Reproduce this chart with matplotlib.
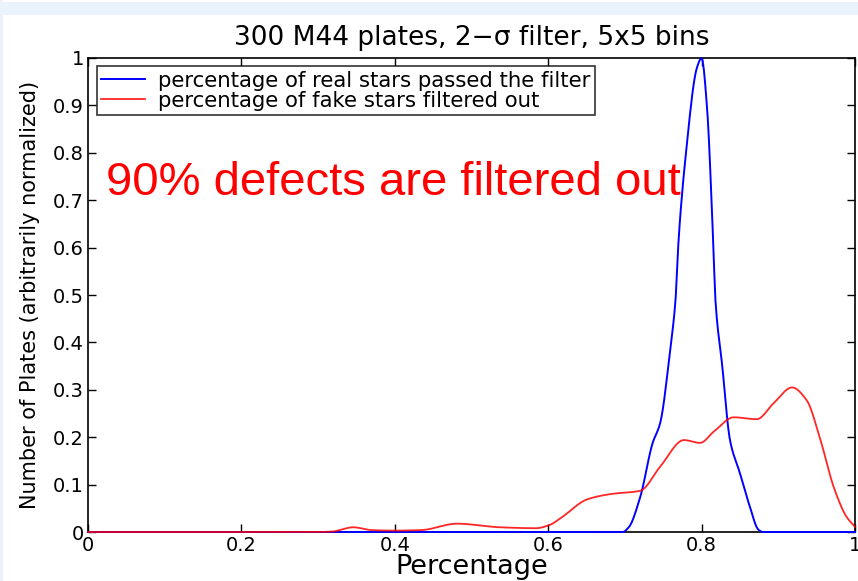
import numpy as np
import matplotlib.pyplot as plt
from matplotlib.patches import Rectangle

plt.rcParams['font.family'] = ['DejaVu Sans']

# values
real_x = [0.0, 0.30, 0.60, 0.697, 0.705, 0.720, 0.736, 0.746, 0.759, 0.766, 0.770,
          0.779, 0.794, 0.800, 0.807, 0.815, 0.818, 0.827, 0.837, 0.850, 0.863, 0.874, 0.88, 1.0]
real_y = [0.0, 0.0, 0.0, 0.0, 0.01, 0.074, 0.187, 0.23, 0.384, 0.49, 0.616,
          0.79, 0.98, 1.0, 0.897, 0.616, 0.49, 0.349, 0.194, 0.124, 0.053, 0.005, 0.0, 0.0]

fake_x = [0.0, 0.30, 0.318, 0.346, 0.37, 0.40, 0.434, 0.481, 0.537, 0.584, 0.602,
          0.616, 0.651, 0.681, 0.720, 0.746, 0.777, 0.798, 0.816, 0.842, 0.872,
          0.894, 0.918, 0.937, 0.955, 0.972, 0.989, 1.0]
fake_y = [0.0, 0.0, 0.001, 0.01, 0.004, 0.003, 0.004, 0.0176, 0.01, 0.008, 0.015,
          0.029, 0.069, 0.080, 0.087, 0.138, 0.194, 0.188, 0.212, 0.242, 0.238,
          0.272, 0.305, 0.278, 0.194, 0.096, 0.032, 0.011]

title = '300 M44 plates, 2\u2212\u03c3 filter, 5x5 bins'
labels = ['percentage of real stars passed the filter',
          'percentage of fake stars filtered out']
note = '90% defects are filtered out'


def smooth(xs, ys, n=600):
    # monotone cubic (PCHIP-like) through the read points
    xs = np.asarray(xs, float)
    ys = np.asarray(ys, float)
    h = np.diff(xs)
    d = np.diff(ys) / h
    m = np.zeros_like(ys)
    for i in range(1, len(xs) - 1):
        if d[i - 1] * d[i] > 0:
            w1 = 2 * h[i] + h[i - 1]
            w2 = h[i] + 2 * h[i - 1]
            m[i] = (w1 + w2) / (w1 / d[i - 1] + w2 / d[i])
    m[0] = d[0]
    m[-1] = d[-1]
    xx = np.linspace(xs[0], xs[-1], n)
    k = np.clip(np.searchsorted(xs, xx) - 1, 0, len(xs) - 2)
    t = (xx - xs[k]) / h[k]
    h00 = 2 * t**3 - 3 * t**2 + 1
    h10 = t**3 - 2 * t**2 + t
    h01 = -2 * t**3 + 3 * t**2
    h11 = t**3 - t**2
    yy = h00 * ys[k] + h10 * h[k] * m[k] + h01 * ys[k + 1] + h11 * h[k] * m[k + 1]
    return xx, yy


fig = plt.figure(figsize=(8.58, 5.81), dpi=100)
fig.patches.append(Rectangle((0, 1 - 15 / 581), 1, 13 / 581, transform=fig.transFigure,
                             facecolor='#eaf2fb', edgecolor='none', zorder=0))
fig.patches.append(Rectangle((0, 0), 2.5 / 858, 1, transform=fig.transFigure,
                             facecolor='#eaf2fb', edgecolor='none', zorder=0))

ax = fig.add_axes([0.1026, 0.0843, 0.8939, 0.8159])
# curves sit on top of the bottom spine, as in the reference
ax.plot(*smooth(real_x, real_y), color='blue', lw=1.4, label=labels[0],
        zorder=3, clip_on=False)
ax.plot(*smooth(fake_x, fake_y), color='red', lw=1.3, alpha=0.85, label=labels[1],
        zorder=3.1, clip_on=False)

ax.set_xlim(0, 1)
ax.set_ylim(0, 1)
ax.set_xticks(np.arange(0, 1.01, 0.2))
ax.set_xticklabels(['0', '0.2', '0.4', '0.6', '0.8', '1'])
ax.set_yticks(np.arange(0, 1.01, 0.1))
ax.set_yticklabels(['0'] + ['%.1f' % v for v in np.arange(0.1, 0.95, 0.1)] + ['1'])
ax.tick_params(direction='in', top=True, right=True, length=6, width=1,
               labelsize=14, pad=3)
for s in ax.spines.values():
    s.set_linewidth(1.2)

ax.set_title(title, fontsize=19, pad=9)
ax.set_xlabel('Percentage', fontsize=19.5, labelpad=-1)
ax.set_ylabel('Number of Plates (arbitrarily normalized)', fontsize=15)
ax.yaxis.set_label_coords(-0.063, 0.5)

leg = ax.legend(loc='upper left', fontsize=15.3, frameon=True, fancybox=False,
                edgecolor='black', borderpad=0.2, labelspacing=0.0, handlelength=2.1,
                handletextpad=0.6, borderaxespad=0.4)
leg.get_frame().set_linewidth(1.2)
leg.set_zorder(5)

ax.text(0.023, 0.736, note, color='red', fontsize=34, va='center', ha='left',
        family='Liberation Sans')

fig.savefig('out.png', dpi=100)
